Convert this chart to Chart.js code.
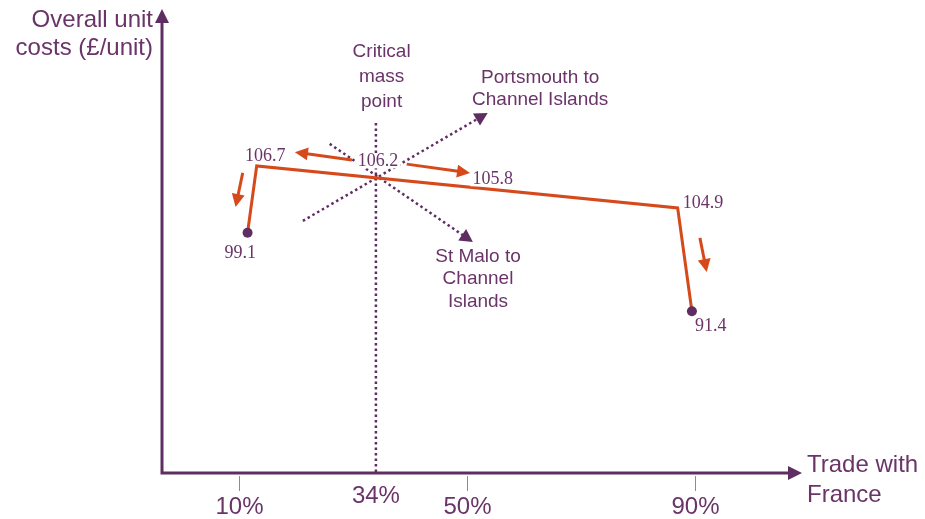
<!DOCTYPE html>
<html>
<head>
<meta charset="utf-8">
<script src="https://cdn.jsdelivr.net/npm/chart.js@4.4.1/dist/chart.umd.min.js"></script>
<style>
html, body { margin: 0; padding: 0; background: #fff; }
canvas { display: block; }
</style>
</head>
<body>
<canvas id="myChart" width="925" height="519"></canvas>
<script>
// cost path: share of trade with France (%) and height on the (unscaled) cost axis
const tradeShare = [11.5, 13.1, 86.9, 89.4];
const costHeight = [52.1, 66.6, 57.5, 35.1];

// x axis ticks
const tickValues = [10, 50, 90];
const tickLabels = ['10%', '50%', '90%'];
const criticalShare = 34;
const criticalLabel = '34%';

// unit cost labels (£/unit)
const costLabels = ['106.7', '106.2', '105.8', '104.9', '99.1', '91.4'];
const costLabelShare = [14.6, 34.35, 54.5, 91.35, 10.2, 92.7];
const costLabelHeight = [68.6, 67.6, 63.7, 58.5, 47.7, 31.8];

// axis titles
const yTitle = ['Overall unit', 'costs (£/unit)'];
const xTitle = ['Trade with', 'France'];

const purple = '#5f2d62';
const textPurple = '#6a3469';
const orange = '#d6491b';
const sans = '"Liberation Sans", Arial, sans-serif';
const serif = '"Liberation Serif", "Times New Roman", serif';

// dotted route arrows and notes (data coords)
const routes = [
    { from: [21.2, 54.7], to: [53.6, 78.1], text: ['Portsmouth to', 'Channel Islands'], at: [62.8, 84.6], lh: 22 },
    { from: [25.9, 71.4], to: [51.0, 50.1], text: ['St Malo to', 'Channel', 'Islands'], at: [51.9, 45.8], lh: 22.5 }
];
const criticalNote = { text: ['Critical', 'mass', 'point'], at: [35.0, 90.2], lh: 25, top: 75.9 };

// orange movement arrows: [x1, y1, x2, y2]
const moves = [
    [29.8, 67.9, 19.8, 69.6],
    [39.4, 67.0, 50.5, 65.1],
    [10.65, 65.1, 9.4, 57.7],
    [90.8, 51.0, 92.0, 43.6]
];

function arrowHead(ctx, x1, y1, x2, y2, len, half, color) {
    const a = Math.atan2(y2 - y1, x2 - x1);
    const c = Math.cos(a), s = Math.sin(a);
    ctx.fillStyle = color;
    ctx.beginPath();
    ctx.moveTo(x2, y2);
    ctx.lineTo(x2 - len * c - half * s, y2 - len * s + half * c);
    ctx.lineTo(x2 - len * c + half * s, y2 - len * s - half * c);
    ctx.closePath();
    ctx.fill();
}

function arrowLine(ctx, x1, y1, x2, y2, color, width, dash, len, half) {
    const a = Math.atan2(y2 - y1, x2 - x1);
    ctx.save();
    ctx.strokeStyle = color;
    ctx.lineWidth = width;
    ctx.setLineDash(dash);
    ctx.beginPath();
    ctx.moveTo(x1, y1);
    ctx.lineTo(x2 - (len - 1) * Math.cos(a), y2 - (len - 1) * Math.sin(a));
    ctx.stroke();
    ctx.restore();
    arrowHead(ctx, x1, y1, x2, y2, len, half, color);
}

const diagram = {
    id: 'diagram',
    beforeDatasetsDraw(chart) {
        const ctx = chart.ctx;
        const x = chart.scales.x, y = chart.scales.y;
        const area = chart.chartArea;
        ctx.save();

        // axes with arrows
        ctx.strokeStyle = purple;
        ctx.lineWidth = 3;
        ctx.beginPath();
        ctx.moveTo(area.left, area.bottom + 1.5);
        ctx.lineTo(area.left, area.top + 10);
        ctx.moveTo(area.left - 1.5, area.bottom);
        ctx.lineTo(area.right - 10, area.bottom);
        ctx.stroke();
        arrowHead(ctx, area.left, area.bottom, area.left, area.top - 3, 14, 7, purple);
        arrowHead(ctx, area.left, area.bottom, area.right, area.bottom, 14, 7, purple);

        // tick marks and labels
        ctx.strokeStyle = '#9c809c';
        ctx.lineWidth = 1;
        ctx.fillStyle = textPurple;
        ctx.font = '24px ' + sans;
        ctx.textAlign = 'center';
        ctx.textBaseline = 'alphabetic';
        tickValues.forEach((v, i) => {
            const px = Math.round(x.getPixelForValue(v)) + 0.5;
            ctx.beginPath();
            ctx.moveTo(px, area.bottom + 3);
            ctx.lineTo(px, area.bottom + 18);
            ctx.stroke();
            ctx.fillText(tickLabels[i], px, area.bottom + 41);
        });
        ctx.fillText(criticalLabel, x.getPixelForValue(criticalShare), area.bottom + 30);

        // axis titles
        ctx.textAlign = 'right';
        ctx.fillText(yTitle[0], area.left - 9, 27);
        ctx.fillText(yTitle[1], area.left - 9, 55);
        ctx.textAlign = 'left';
        ctx.fillText(xTitle[0], area.right + 5, area.bottom - 1);
        ctx.fillText(xTitle[1], area.right + 5, area.bottom + 29);

        // critical mass vertical dotted line
        ctx.strokeStyle = purple;
        ctx.lineWidth = 2.5;
        ctx.setLineDash([2.5, 3]);
        const cx = x.getPixelForValue(criticalShare);
        ctx.beginPath();
        ctx.moveTo(cx, y.getPixelForValue(criticalNote.top));
        ctx.lineTo(cx, area.bottom);
        ctx.stroke();
        ctx.setLineDash([]);

        // dotted route arrows
        routes.forEach(r => {
            arrowLine(ctx, x.getPixelForValue(r.from[0]), y.getPixelForValue(r.from[1]),
                x.getPixelForValue(r.to[0]), y.getPixelForValue(r.to[1]),
                purple, 2.5, [2.5, 3], 13, 7);
        });

        // notes
        ctx.fillStyle = textPurple;
        ctx.font = '19px ' + sans;
        ctx.textAlign = 'center';
        ctx.textBaseline = 'alphabetic';
        routes.concat([criticalNote]).forEach(n => {
            const nx = x.getPixelForValue(n.at[0]);
            const ny = y.getPixelForValue(n.at[1]);
            n.text.forEach((t, i) => ctx.fillText(t, nx, ny + i * n.lh));
        });
        ctx.restore();
    },
    afterDatasetsDraw(chart) {
        const ctx = chart.ctx;
        const x = chart.scales.x, y = chart.scales.y;
        ctx.save();

        // cost value labels on white
        ctx.font = '18px ' + serif;
        ctx.textAlign = 'center';
        ctx.textBaseline = 'middle';
        costLabels.forEach((t, i) => {
            const lx = x.getPixelForValue(costLabelShare[i]);
            const ly = y.getPixelForValue(costLabelHeight[i]);
            const w = ctx.measureText(t).width;
            ctx.fillStyle = '#fff';
            ctx.fillRect(lx - w / 2 - 2, ly - 7, w + 4, 14);
            ctx.fillStyle = textPurple;
            ctx.fillText(t, lx, ly);
        });

        // orange movement arrows
        moves.forEach(m => {
            arrowLine(ctx, x.getPixelForValue(m[0]), y.getPixelForValue(m[1]),
                x.getPixelForValue(m[2]), y.getPixelForValue(m[3]),
                orange, 3, [], 13, 6.5);
        });
        ctx.restore();
    }
};

const ctx = document.getElementById('myChart').getContext('2d');
const myChart = new Chart(ctx, {
    type: 'scatter',
    data: {
        datasets: [{
            label: 'Overall unit costs',
            data: tradeShare.map((v, i) => ({ x: v, y: costHeight[i] })),
            showLine: true,
            borderColor: orange,
            borderWidth: 3,
            borderJoinStyle: 'miter',
            pointRadius: [5, 0, 0, 5],
            pointBackgroundColor: purple,
            pointBorderWidth: 0,
            tension: 0
        }]
    },
    options: {
        responsive: false,
        animation: false,
        devicePixelRatio: 1,
        layout: { padding: { left: 162, right: 123, top: 12, bottom: 46 } },
        plugins: { legend: { display: false }, tooltip: { enabled: false } },
        scales: {
            x: { type: 'linear', min: -3.5, max: 108.7, display: false },
            y: { type: 'linear', min: 0, max: 100, display: false }
        }
    },
    plugins: [diagram]
});
</script>
</body>
</html>
